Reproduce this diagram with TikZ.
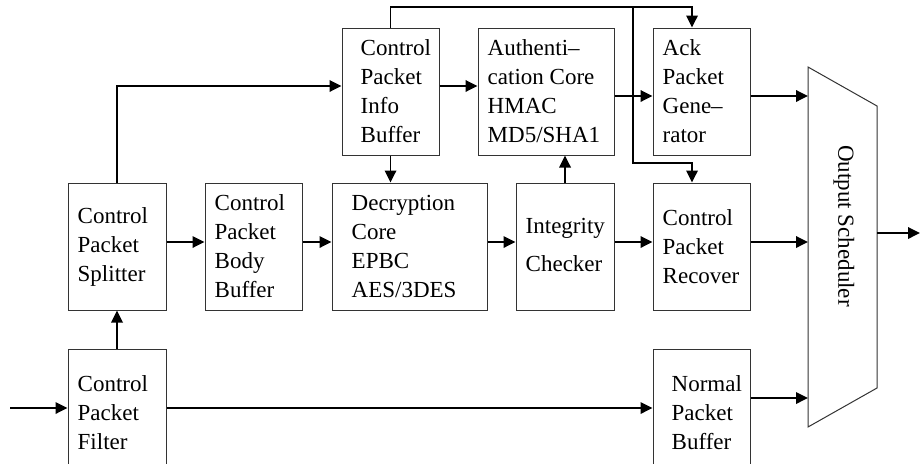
\documentclass[tikz,border=0pt]{standalone}
\usepackage{fontspec}
\setmainfont{Liberation Serif}
\usetikzlibrary{arrows.meta}
\tikzset{
  block/.style={draw=black!80, line width=1pt, minimum height=127pt, inner sep=0pt},
  lbl/.style={anchor=west, align=left, inner sep=0pt, font=\fontsize{23}{29}\selectfont},
  flow/.style={line width=1.8pt, -{Triangle[length=12pt,width=11.5pt]}},
  wire/.style={line width=1.8pt}
}
\begin{document}
\begin{tikzpicture}[x=1pt, y=-1pt]
\clip (0,0) rectangle (920,463);

% horizontal rails and vertical bus positions
\coordinate (ra) at (0,86);
\coordinate (rb) at (0,96);
\coordinate (rc) at (0,242);
\coordinate (rd) at (0,408);
\coordinate (re) at (0,398);
\coordinate (rf) at (0,233);
\coordinate (rg) at (0,7);
\coordinate (rh) at (0,163);
\coordinate (xa) at (692,0);
\coordinate (xb) at (633,0);
\coordinate (in) at (10,408);
\coordinate (out) at (920,233);

% processing blocks
\node[block, minimum width=98pt]  (filter) at (117,412.5) {};
\node[block, minimum width=98pt]  (split)  at (117,246.5) {};
\node[block, minimum width=97pt]  (body)   at (253.5,246.5) {};
\node[block, minimum width=155pt] (dec)    at (409.5,246.5) {};
\node[block, minimum width=97pt]  (info)   at (390.5,91.5) {};
\node[block, minimum width=136pt] (auth)   at (546,91.5) {};
\node[block, minimum width=98pt]  (integ)  at (565,246.5) {};
\node[block, minimum width=97pt]  (ack)    at (701.5,91.5) {};
\node[block, minimum width=97pt]  (rec)    at (701.5,246.5) {};
\node[block, minimum width=97pt]  (norm)   at (701.5,412.5) {};

% block captions
\node[lbl] (filter-t) at ([xshift=10pt]filter.west) {Control\\Packet\\Filter};
\node[lbl] (split-t)  at ([xshift=10pt]split.west) {Control\\Packet\\Splitter};
\node[lbl] (body-t)   at ([xshift=10pt]body.west) {Control\\Packet\\Body\\Buffer};
\node[lbl] (dec-t)    at ([xshift=20pt]dec.west) {Decryption\\Core\\EPBC\\AES/3DES};
\node[lbl] (info-t)   at ([xshift=19pt]info.west) {Control\\Packet\\Info\\Buffer};
\node[lbl] (auth-t)   at ([xshift=10pt]auth.west) {Authenti–\\cation Core\\HMAC\\MD5/SHA1};
\node[lbl] (integ-t)  at ([xshift=10pt,yshift=2pt]integ.west) {Integrity\\[9pt]Checker};
\node[lbl] (ack-t)    at ([xshift=10pt]ack.west) {Ack\\Packet\\Gene–\\rator};
\node[lbl] (rec-t)    at ([xshift=10pt]rec.west) {Control\\Packet\\Recover};
\node[lbl] (norm-t)   at ([xshift=19pt]norm.west) {Normal\\Packet\\Buffer};

% output scheduler (trapezoid)
\coordinate (s-nw) at (808,67);
\coordinate (s-ne) at (877,106);
\coordinate (s-se) at (877,388);
\coordinate (s-sw) at (808,427);
\draw[draw=black!80, line width=1pt] (s-nw) -- (s-ne) -- (s-se) -- (s-sw) -- cycle;
\node[rotate=-90, inner sep=0pt, font=\fontsize{23}{29}\selectfont] (sched) at (844,226) {Output Scheduler};

% data paths
\draw[flow] (in) -- (in -| filter.west);
\draw[flow] (filter.north) -- (split.south);
\draw[flow] (split.north) |- (info.west |- ra);
\draw[flow] (split.east |- rc) -- (body.west |- rc);
\draw[flow] (body.east |- rc) -- (dec.west |- rc);
\draw[flow] (dec.east |- rc) -- (integ.west |- rc);
\draw[flow] (integ.east |- rc) -- (rec.west |- rc);
\draw[flow] (rec.east |- rc) -- (s-nw |- rc);
\draw[flow] (filter.east |- rd) -- (norm.west |- rd);
\draw[flow] (norm.east |- re) -- (s-nw |- re);
\draw[flow] (info.east |- ra) -- (auth.west |- ra);
\draw[flow] (auth.east |- rb) -- (ack.west |- rb);
\draw[flow] (ack.east |- rb) -- (s-nw |- rb);
\draw[flow] (info.south) -- (info.south |- dec.north);
\draw[flow] (integ.north) -- (integ.north |- auth.south);
\draw[flow] (info.north) |- (xa |- rg) -- (xa |- ack.north);
\draw[flow] (xb |- rg) |- (xa |- rh) -- (xa |- rec.north);
\draw[flow] (s-ne |- rf) -- (out);
\end{tikzpicture}
\end{document}
